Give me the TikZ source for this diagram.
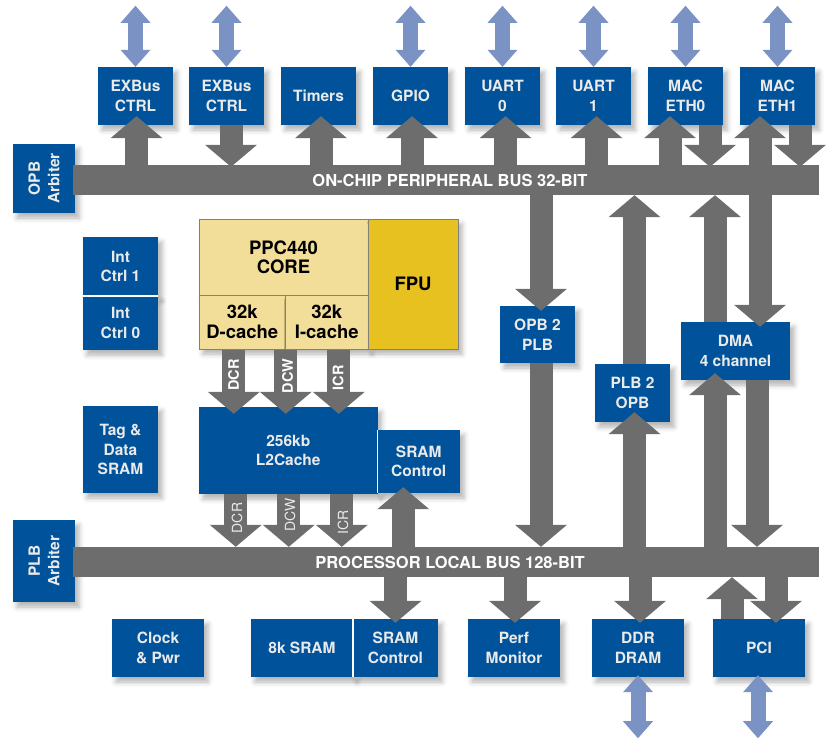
\documentclass[tikz,border=0pt]{standalone}
\usepackage{fontspec}
\setmainfont{TeX Gyre Heros}
\usepackage{xcolor}
\usepackage{tikz}
\usetikzlibrary{arrows.meta,positioning,calc,shadows.blur}

\definecolor{blkblue}{RGB}{0,82,155}
\definecolor{busgray}{RGB}{109,109,109}
\definecolor{iolight}{RGB}{123,146,196}
\definecolor{corelight}{RGB}{242,222,152}
\definecolor{fpuyellow}{RGB}{230,193,32}
\definecolor{txtlight}{RGB}{234,234,234}

\begin{document}
\begin{tikzpicture}[
    x=1pt, y=-1pt,
    every node/.style = {inner sep=0pt, align=center},
    shade/.style = {blur shadow={shadow xshift=4pt, shadow yshift=-5pt, shadow blur radius=5pt, shadow opacity=30}},
    blk/.style = {shade, fill=blkblue, text=txtlight, minimum width=75pt, minimum height=58pt,
      font=\bfseries\fontsize{15.5}{19.5}\selectfont},
    bus/.style = {fill=busgray, text=white, minimum width=746pt, minimum height=30pt,
      font=\bfseries\fontsize{16.5}{18}\selectfont},
    core/.style = {shade, fill=corelight, draw=gray, line width=1pt,
      font=\bfseries\fontsize{18.5}{19.5}\selectfont},
    fat/.style = {draw=busgray, line width=23pt, -{Triangle[width=52pt,length=22pt,line width=0pt]}},
    io/.style = {draw=iolight, line width=15pt,
      {Triangle[width=30pt,length=17pt,line width=0pt]}-{Triangle[width=30pt,length=17pt,line width=0pt]}},
    lbl/.style = {rotate=90, text=white, font=\bfseries\fontsize{14.5}{17}\selectfont},
    thinlbl/.style = {rotate=90, text=txtlight, font=\fontsize{14}{17}\selectfont}
  ]
  \useasboundingbox (0,0) rectangle (830,740);

  % peripherals on the OPB
  \node[blk] (exb1) at (135.5,96) {EXBus\\CTRL};
  \node[blk] (exb2) at (226.5,96) {EXBus\\CTRL};
  \node[blk] (tmr) at (318.5,96) {Timers};
  \node[blk] (gpio) at (410.5,96) {GPIO};
  \node[blk] (uart0) at (502.5,96) {UART\\0};
  \node[blk] (uart1) at (593.5,96) {UART\\1};
  \node[blk] (eth0) at (685.5,96) {MAC\\ETH0};
  \node[blk] (eth1) at (777.5,96) {MAC\\ETH1};

  % arbiters
  \node[blk, minimum width=62pt, minimum height=69pt] (opbarb) at (44,178.5) {};
  \node[blk, minimum width=62pt, minimum height=82pt] (plbarb) at (44,561) {};
  \node[rotate=90, text=txtlight, font=\bfseries\fontsize{15.5}{19.5}\selectfont] (opbarbtxt) at (opbarb) {OPB\\Arbiter};
  \node[rotate=90, text=txtlight, font=\bfseries\fontsize{15.5}{19.5}\selectfont] (plbarbtxt) at (plbarb) {PLB\\Arbiter};

  % buses
  \node[bus] (opb) at (446,180) {\hspace*{8pt}ON-CHIP PERIPHERAL BUS 32-BIT};
  \node[bus] (plb) at (446,562) {\hspace*{8pt}PROCESSOR LOCAL BUS 128-BIT};

  % left column
  \node[blk, minimum height=59pt] (ic1) at (120.5,266.5) {Int\\Ctrl 1};
  \node[blk, minimum height=54pt] (ic0) at (120.5,323) {Int\\Ctrl 0};
  \draw[white, line width=1.5pt] (ic1.south west) -- (ic1.south east);
  \node[blk, minimum height=87pt] (tag) at (120.5,449.5) {Tag \&\\Data\\SRAM};

  % processor core
  \node[core, minimum width=169pt, minimum height=76pt] (ppc) at (283.5,257) {PPC440\\CORE};
  \node[core, minimum width=86.5pt, minimum height=54pt] (dcache) at (242.25,322) {32k\\D-cache};
  \node[core, minimum width=82.5pt, minimum height=54pt] (icache) at (326.75,322) {32k\\I-cache};
  \node[core, fill=fpuyellow, minimum width=90pt, minimum height=130pt] (fpu) at (413,284) {FPU};

  % L2 and SRAM
  \node[blk, minimum width=178.5pt, minimum height=87pt] (l2) at (288.25,450.5) {256kb\\L2Cache};
  \node[blk, minimum width=82.5pt, minimum height=63pt] (sramc1) at (418.75,461.5) {SRAM\\Control};
  \draw[white, line width=1.5pt] (sramc1.north west) -- (sramc1.south west);

  % bridges and DMA
  \node[blk, minimum height=57pt] (opb2plb) at (537.5,334.5) {OPB 2\\PLB};
  \node[blk] (plb2opb) at (632.5,393) {PLB 2\\OPB};
  \node[blk, minimum width=109pt] (dma) at (735.5,351) {DMA\\4 channel};

  % bottom row
  \node[blk, minimum width=92pt] (clk) at (158,648) {Clock\\\& Pwr};
  \node[blk, minimum width=102pt] (sram8k) at (302,648) {8k SRAM};
  \node[blk, minimum width=85pt] (sramc2) at (395.5,648) {SRAM\\Control};
  \draw[white, line width=1.5pt] (sramc2.north west) -- (sramc2.south west);
  \node[blk, minimum width=92pt] (perf) at (514,648) {Perf\\Monitor};
  \node[blk, minimum width=92pt] (ddr) at (638,648) {DDR\\DRAM};
  \node[blk, minimum width=92pt] (pci) at (759,648) {PCI};

  % OPB <-> peripherals
  \draw[fat] ([xshift=1pt]exb1.south |- opb.north) -- ([xshift=1pt,yshift=9pt]exb1.south);
  \draw[fat] ([xshift=4.5pt]exb2.south) -- ([xshift=4.5pt,yshift=-2pt]exb2.south |- opb.north);
  \draw[fat] ([xshift=2.5pt]tmr.south |- opb.north) -- ([xshift=2.5pt,yshift=9pt]tmr.south);
  \draw[fat] ([xshift=1.5pt]gpio.south |- opb.north) -- ([xshift=1.5pt,yshift=9pt]gpio.south);
  \draw[fat] ([xshift=3pt]uart0.south |- opb.north) -- ([xshift=3pt,yshift=9pt]uart0.south);
  \draw[fat] ([xshift=3pt]uart1.south |- opb.north) -- ([xshift=3pt,yshift=9pt]uart1.south);
  \draw[fat] ([xshift=-15.5pt]eth0.south |- opb.north) -- ([xshift=-15.5pt,yshift=9pt]eth0.south);
  \draw[fat] ([xshift=24.5pt]eth0.south) -- ([xshift=24.5pt,yshift=-2pt]eth0.south |- opb.north);
  \draw[fat] ([xshift=-17.5pt]eth1.south |- opb.north) -- ([xshift=-17.5pt,yshift=9pt]eth1.south);
  \draw[fat] ([xshift=22.5pt]eth1.south) -- ([xshift=22.5pt,yshift=-2pt]eth1.south |- opb.north);

  % bridges
  \draw[fat] ([xshift=3.5pt]opb2plb.north |- opb.south) -- ([xshift=3.5pt,yshift=-5pt]opb2plb.north);
  \draw[fat] ([xshift=3.5pt]opb2plb.south) -- ([xshift=3.5pt]opb2plb.south |- plb.north);
  \draw[fat] ([xshift=2pt]plb2opb.north) -- ([xshift=2pt]plb2opb.north |- opb.south);
  \draw[fat] ([xshift=2pt]plb2opb.south |- plb.north) -- ([xshift=2pt,yshift=10pt]plb2opb.south);

  % DMA
  \draw[fat] ([xshift=-20.5pt]dma.north) -- ([xshift=-20.5pt]dma.north |- opb.south);
  \draw[fat] ([xshift=24.5pt]dma.north |- opb.south) -- ([xshift=24.5pt,yshift=-5pt]dma.north);
  \draw[fat] ([xshift=-20.5pt]dma.south |- plb.north) -- ([xshift=-20.5pt,yshift=7pt]dma.south);
  \draw[fat] ([xshift=21.5pt]dma.south) -- ([xshift=21.5pt]dma.south |- plb.north);

  % core to L2 to PLB
  \draw[fat] ([xshift=-54.5pt]l2.north |- dcache.south) -- ([xshift=-54.5pt,yshift=-7pt]l2.north);
  \draw[fat] ([xshift=-2.5pt]l2.north |- dcache.south) -- ([xshift=-2.5pt,yshift=-7pt]l2.north);
  \draw[fat] ([xshift=50.5pt]l2.north |- dcache.south) -- ([xshift=50.5pt,yshift=-7pt]l2.north);
  \draw[fat] ([xshift=-52.5pt]l2.south) -- ([xshift=-52.5pt]l2.south |- plb.north);
  \draw[fat] ([xshift=0.5pt]l2.south) -- ([xshift=0.5pt]l2.south |- plb.north);
  \draw[fat] ([xshift=53.5pt]l2.south) -- ([xshift=53.5pt]l2.south |- plb.north);
  \node[lbl] (dcr1) at (233.5,375) {DCR};
  \node[lbl] (dcw1) at (287.5,376) {DCW};
  \node[lbl] (icr1) at (338,378) {ICR};
  \node[thinlbl] (dcr2) at (237,518) {DCR};
  \node[thinlbl] (dcw2) at (290,515) {DCW};
  \node[thinlbl] (icr2) at (343,522) {ICR};

  % PLB <-> memories and devices
  \draw[fat] ([xshift=-15.5pt]sramc1.south |- plb.north) -- ([xshift=-15.5pt,yshift=6pt]sramc1.south);
  \draw[fat] (sramc2.north |- plb.south) -- ([yshift=-4pt]sramc2.north);
  \draw[fat] ([xshift=1pt]perf.north |- plb.south) -- ([xshift=1pt,yshift=-4pt]perf.north);
  \draw[fat] ([xshift=2pt]ddr.north |- plb.south) -- ([xshift=2pt,yshift=-4pt]ddr.north);
  \draw[fat] ([xshift=-27pt]pci.north) -- ([xshift=-27pt]pci.north |- plb.south);
  \draw[fat] ([xshift=17pt]pci.north |- plb.south) -- ([xshift=17pt,yshift=-4pt]pci.north);

  % off-chip links
  \draw[io] (exb1.north) -- ([yshift=61pt]exb1.north);
  \draw[io] (exb2.north) -- ([yshift=61pt]exb2.north);
  \draw[io] (gpio.north) -- ([yshift=61pt]gpio.north);
  \draw[io] (uart0.north) -- ([yshift=61pt]uart0.north);
  \draw[io] (uart1.north) -- ([yshift=61pt]uart1.north);
  \draw[io] (eth0.north) -- ([yshift=61pt]eth0.north);
  \draw[io] (eth1.north) -- ([yshift=61pt]eth1.north);
  \draw[io] ([yshift=2pt]ddr.south) -- ([yshift=-61pt]ddr.south);
  \draw[io] ([xshift=-1pt,yshift=2pt]pci.south) -- ([xshift=-1pt,yshift=-61pt]pci.south);
\end{tikzpicture}
\end{document}
